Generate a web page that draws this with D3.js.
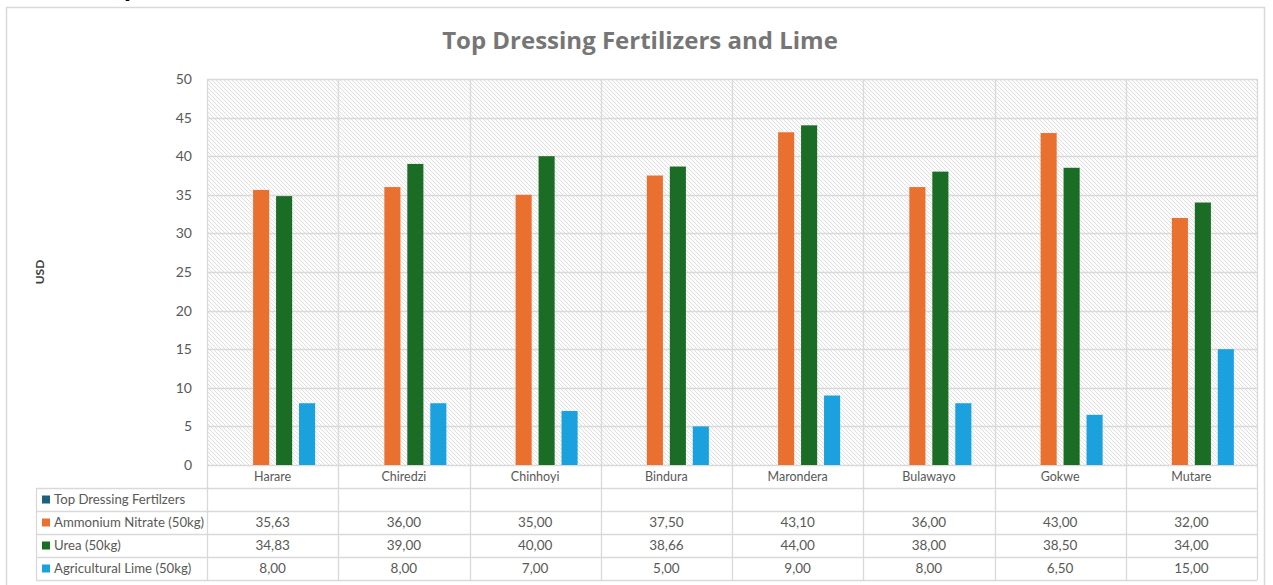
<!DOCTYPE html>
<html><head><meta charset="utf-8">
<script src="https://cdn.jsdelivr.net/npm/d3@7"></script>
<style>
html,body{margin:0;padding:0;background:#fff;}
svg{display:block;font-family:Lato,"Open Sans",sans-serif;}
</style></head>
<body>
<svg id="c" width="1273" height="585"></svg>
<script>
const categories = ["Harare","Chiredzi","Chinhoyi","Bindura","Marondera","Bulawayo","Gokwe","Mutare"];
const seriesNames = ["Top Dressing Fertilzers","Ammonium Nitrate (50kg)","Urea (50kg)","Agricultural Lime (50kg)"];
const seriesColors = ["#1d5f80","#ea7030","#1b6d25","#1ba1dd"];
const topDressing = [null,null,null,null,null,null,null,null];
const ammoniumNitrate = [35.63,36.00,35.00,37.50,43.10,36.00,43.00,32.00];
const urea = [34.83,39.00,40.00,38.66,44.00,38.00,38.50,34.00];
const agriculturalLime = [8.00,8.00,7.00,5.00,9.00,8.00,6.50,15.00];
const yTicks = [0,5,10,15,20,25,30,35,40,45,50];
const title = "Top Dressing Fertilizers and Lime";
const yLabel = "USD";

const seriesValues = [topDressing, ammoniumNitrate, urea, agriculturalLime];

const svg = d3.select("#c");
const L = 207, R = 1257, T = 79, B = 465;
const rowH = 23;
const tableLeft = 36;

// outer frame
svg.append("rect").attr("x",6.5).attr("y",7.5).attr("width",1258).attr("height",600)
  .attr("fill","#fff").attr("stroke","#d9d9d9").attr("stroke-width",1.5);

// cut-off text fragment at the very top
svg.append("text").attr("x",122).attr("y",-4).attr("font-size",30).attr("font-weight","bold")
  .attr("fill","#000").text("y");

// hatch pattern
const defs = svg.append("defs");
const pat = defs.append("pattern").attr("id","hatch").attr("patternUnits","userSpaceOnUse")
  .attr("width",4).attr("height",4);
pat.append("rect").attr("width",4).attr("height",4).attr("fill","#fcfcfc");
pat.append("path").attr("d","M-1,-1 L5,5 M-1,3 L1,5 M3,-1 L5,1").attr("stroke","#e0e0e0").attr("stroke-width",1);

const x = d3.scaleBand().domain(categories).range([L,R]).paddingInner(0).paddingOuter(0);
const y = d3.scaleLinear().domain([0,50]).range([B,T]);
const bw = x.bandwidth();
const xs = d3.scaleBand().domain(seriesNames).range([bw*0.15, bw*0.85]).paddingInner(0.3).paddingOuter(0.15);

svg.append("rect").attr("x",L).attr("y",T).attr("width",R-L).attr("height",B-T).attr("fill","url(#hatch)");

// horizontal grid
svg.append("g").selectAll("line").data(yTicks).join("line")
  .attr("x1",L).attr("x2",R).attr("y1",d=>Math.round(y(d))+0.5).attr("y2",d=>Math.round(y(d))+0.5)
  .attr("stroke","#d9d9d9").attr("stroke-width",1.3);
// vertical grid (category boundaries) down through table
const bounds = categories.map(c=>x(c)).concat([R]);
svg.append("g").selectAll("line").data(bounds).join("line")
  .attr("x1",d=>Math.round(d)+0.5).attr("x2",d=>Math.round(d)+0.5)
  .attr("y1",T).attr("y2",B+rowH*5)
  .attr("stroke","#d9d9d9").attr("stroke-width",1.3);

// y axis labels
const yAxis = d3.axisLeft(y).tickValues(yTicks).tickSize(0).tickPadding(15);
const gy = svg.append("g").attr("transform",`translate(${L},0)`).call(yAxis);
gy.select(".domain").remove();
gy.selectAll("text").attr("font-size",14).attr("fill","#595959").attr("font-family","Lato,sans-serif");

// bars
seriesValues.forEach((vals,si)=>{
  svg.append("g").selectAll("rect").data(categories.map((c,i)=>({c,v:vals[i]})).filter(d=>d.v!=null)).join("rect")
    .attr("x",d=>x(d.c)+xs(seriesNames[si]))
    .attr("width",xs.bandwidth())
    .attr("y",d=>y(d.v))
    .attr("height",d=>y(0)-y(d.v))
    .attr("fill",seriesColors[si]);
});

// table
const tg = svg.append("g");
// category label row
tg.selectAll("text.cat").data(categories).join("text").attr("class","cat")
  .attr("x",d=>x(d)+bw/2).attr("y",B+rowH/2+4).attr("text-anchor","middle")
  .attr("font-size",12.5).attr("fill","#595959").text(d=>d);
// horizontal row lines
const rowLines = [B+rowH, B+rowH*2, B+rowH*3, B+rowH*4, B+rowH*5];
tg.selectAll("line.row").data(rowLines).join("line").attr("class","row")
  .attr("x1",tableLeft).attr("x2",R).attr("y1",d=>d+0.5).attr("y2",d=>d+0.5)
  .attr("stroke","#d9d9d9").attr("stroke-width",1.3);
tg.append("line").attr("x1",tableLeft+0.5).attr("x2",tableLeft+0.5).attr("y1",B+rowH).attr("y2",B+rowH*5)
  .attr("stroke","#d9d9d9").attr("stroke-width",1.3);
const fmt = v => v==null ? "" : d3.format(".2f")(v).replace(".",",");
seriesNames.forEach((name,si)=>{
  const ry = B + rowH*(si+1);
  tg.append("rect").attr("x",tableLeft+6).attr("y",ry+rowH/2-4).attr("width",8).attr("height",8).attr("fill",seriesColors[si]);
  tg.append("text").attr("x",tableLeft+18).attr("y",ry+rowH/2+4.5).attr("font-size",13.2).attr("fill","#595959").text(name);
  tg.append("g").selectAll("text").data(categories.map((c,i)=>({c,v:seriesValues[si][i]}))).join("text")
    .attr("x",d=>x(d.c)+bw/2).attr("y",ry+rowH/2+4.5).attr("text-anchor","middle")
    .attr("font-size",13.5).attr("fill","#595959").text(d=>fmt(d.v));
});

// title
svg.append("text").attr("x",640).attr("y",49).attr("text-anchor","middle")
  .attr("font-size",24).attr("font-weight","bold").attr("fill","#767676")
  .attr("font-family","'Open Sans',sans-serif").text(title);

// y label
svg.append("text").attr("transform","translate(44,272) rotate(-90)").attr("text-anchor","middle")
  .attr("font-size",12).attr("font-weight","bold").attr("fill","#404040").text(yLabel);
</script>
</body></html>
